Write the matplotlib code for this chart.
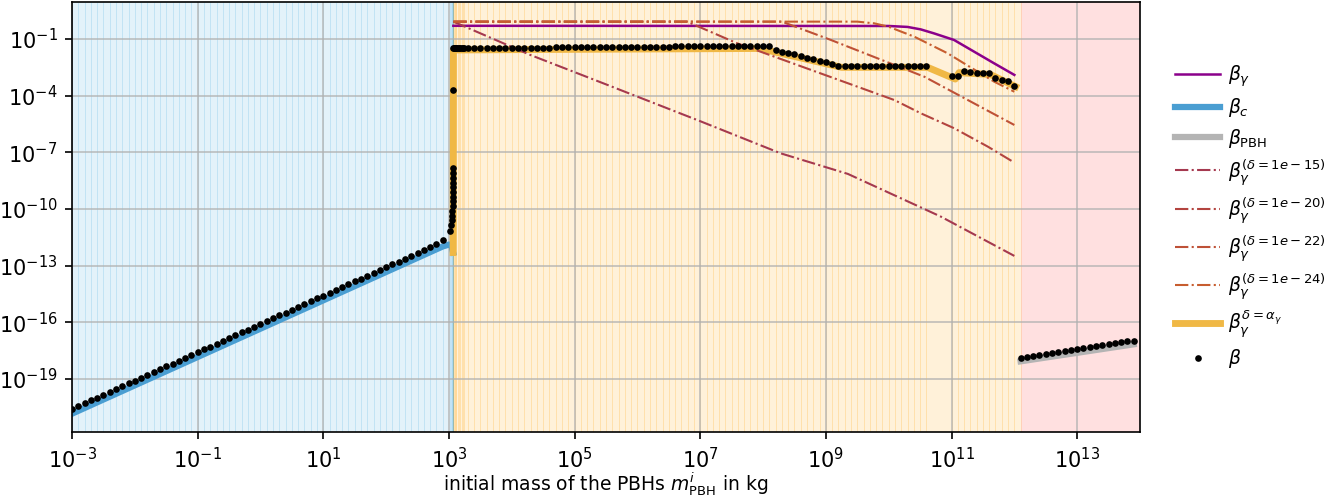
import numpy as np
import matplotlib
matplotlib.use("Agg")
import matplotlib.pyplot as plt

# ---------------- data (log10 values) ----------------
# beta (black dots), blue regime
logm_dots_c = [-3.0, -2.9, -2.8, -2.7, -2.6, -2.5, -2.4, -2.3, -2.2, -2.1,
               -2.0, -1.9, -1.8, -1.7, -1.6, -1.5, -1.4, -1.3, -1.2, -1.1,
               -1.0, -0.9, -0.8, -0.7, -0.6, -0.5, -0.4, -0.3, -0.2, -0.1,
               0.0, 0.1, 0.2, 0.3, 0.4, 0.5, 0.6, 0.7, 0.8, 0.9,
               1.0, 1.1, 1.2, 1.3, 1.4, 1.5, 1.6, 1.7, 1.8, 1.9,
               2.0, 2.1, 2.2, 2.3, 2.4, 2.5, 2.6, 2.7, 2.8, 2.9,
               3.020, 3.035, 3.045, 3.052, 3.056, 3.059, 3.061, 3.062,
               3.063, 3.064, 3.065, 3.066, 3.067, 3.068]
logb_dots_c = [-20.58, -20.43, -20.28, -20.13, -19.98, -19.83, -19.68, -19.53, -19.38, -19.23,
               -19.08, -18.93, -18.78, -18.63, -18.48, -18.33, -18.18, -18.03, -17.88, -17.73,
               -17.58, -17.43, -17.28, -17.13, -16.98, -16.83, -16.68, -16.53, -16.38, -16.23,
               -16.08, -15.93, -15.78, -15.63, -15.48, -15.33, -15.18, -15.03, -14.88, -14.73,
               -14.58, -14.43, -14.28, -14.13, -13.98, -13.83, -13.68, -13.53, -13.38, -13.23,
               -13.08, -12.93, -12.78, -12.63, -12.48, -12.33, -12.18, -12.02, -11.85, -11.62,
               -11.15, -10.85, -10.60, -10.35, -10.10, -9.85, -9.60, -9.35,
               -9.10, -8.85, -8.60, -8.35, -8.10, -7.85]

# beta (black dots), yellow regime
logm_dots_g = [3.069, 3.070, 3.080, 3.090, 3.100, 3.110, 3.120, 3.140, 3.160, 3.180, 3.200, 3.220, 3.240,
               3.3, 3.4, 3.5, 3.6, 3.7, 3.8, 3.9, 4.0, 4.1, 4.2, 4.3, 4.4, 4.5, 4.6,
               4.7, 4.8, 4.9, 5.0, 5.1, 5.2, 5.3, 5.4, 5.5, 5.6, 5.7, 5.8, 5.9, 6.0,
               6.1, 6.2, 6.3, 6.4, 6.5, 6.6, 6.7, 6.8, 6.9, 7.0, 7.1, 7.2, 7.3, 7.4,
               7.5, 7.6, 7.7, 7.8, 7.9, 8.0, 8.1, 8.2, 8.3, 8.4, 8.5, 8.6, 8.7, 8.8,
               8.9, 9.0, 9.1, 9.2, 9.3, 9.4, 9.5, 9.6, 9.7, 9.8, 9.9, 10.0, 10.1, 10.2,
               10.3, 10.4, 10.5, 10.6, 11.0, 11.1, 11.2, 11.3, 11.4, 11.5, 11.6, 11.7,
               11.8, 11.9, 12.0]
logb_dots_g = [-3.70, -1.46, -1.46, -1.46, -1.46, -1.46, -1.46, -1.46, -1.46, -1.46, -1.46, -1.46, -1.46,
               -1.46, -1.46, -1.46, -1.46, -1.46, -1.46, -1.46, -1.46, -1.46, -1.46, -1.46, -1.46, -1.46, -1.46,
               -1.42, -1.42, -1.42, -1.42, -1.42, -1.42, -1.42, -1.42, -1.42, -1.42, -1.42, -1.42, -1.42, -1.42,
               -1.42, -1.42, -1.42, -1.42, -1.42, -1.37, -1.37, -1.37, -1.37, -1.37, -1.37, -1.37, -1.37, -1.37,
               -1.37, -1.37, -1.36, -1.36, -1.36, -1.36, -1.36, -1.58, -1.67, -1.72, -1.81, -1.90, -1.99, -2.07,
               -2.15, -2.23, -2.32, -2.41, -2.41, -2.41, -2.41, -2.41, -2.41, -2.41, -2.41, -2.41, -2.41, -2.41,
               -2.41, -2.41, -2.41, -2.41, -2.96, -2.96, -2.68, -2.76, -2.81, -2.81, -2.81, -3.05,
               -3.17, -3.22, -3.47]

# beta (black dots), PBH regime
logm_dots_p = [12.1, 12.2, 12.3, 12.4, 12.5, 12.6, 12.7, 12.8, 12.9, 13.0,
               13.1, 13.2, 13.3, 13.4, 13.5, 13.6, 13.7, 13.8, 13.9]
logb_dots_p = [-17.86, -17.81, -17.76, -17.71, -17.66, -17.61, -17.56, -17.51, -17.46, -17.41,
               -17.36, -17.31, -17.26, -17.21, -17.16, -17.11, -17.06, -17.01, -16.96]

# beta_c
logm_c = [-3.0, 2.6, 2.9, 3.0, 3.04, 3.066]
logb_c = [-20.83, -12.43, -11.98, -11.88, -11.95, -12.30]

# beta_PBH
logm_pbh = [12.1, 13.9]
logb_pbh = [-18.06, -17.16]

# beta_gamma
logm_gam = [3.07, 10.0, 10.3, 10.51, 10.72, 11.04, 11.36, 11.68, 12.0]
logb_gam = [-0.30, -0.31, -0.36, -0.49, -0.70, -1.05, -1.67, -2.29, -2.90]

# beta_gamma^(delta)
logm_d15 = [3.07, 4.3, 5.5, 7.0, 8.28, 9.35, 10.83, 12.0]
logb_d15 = [-0.08, -1.85, -3.40, -5.35, -7.05, -8.14, -10.40, -12.48]
logm_d20 = [3.07, 6.79, 7.59, 7.96, 10.09, 10.51, 11.04, 11.58, 12.0]
logb_d20 = [-0.08, -0.08, -1.23, -1.67, -4.23, -4.93, -5.72, -6.70, -7.54]
logm_d22 = [3.07, 8.30, 9.08, 10.57, 11.26, 12.0]
logb_d22 = [-0.08, -0.08, -1.05, -3.00, -4.23, -5.55]
logm_d24 = [3.07, 9.5, 9.77, 10.0, 10.2, 10.41, 10.94, 11.2, 11.68, 12.0]
logb_d24 = [-0.08, -0.08, -0.17, -0.35, -0.61, -0.88, -1.76, -2.29, -3.26, -3.79]
delta_labels = ["1e-15", "1e-20", "1e-22", "1e-24"]

# beta_gamma^(delta = alpha_gamma)
logm_alpha = [3.066, 3.07, 4.7, 7.95, 9.25, 10.62, 11.06, 11.12, 11.62, 12.02]
logb_alpha = [-12.30, -1.58, -1.55, -1.50, -2.50, -2.50, -3.12, -2.78, -2.88, -3.52]

# regime boundaries (log10 of mass in kg) and axis range
logm_min, logm_max = -3.0, 14.0
regime_blue_end = 3.0685
regime_yellow_end = 12.05

# ---------------- styling ----------------
col_blue_bg = "#45aee4"
col_yellow_bg = "orange"
col_pink_bg = "red"
col_c = "#4a9ed2"
col_pbh = "#b4b4b4"
col_gam = "#8b008b"
col_alpha = "#f0b845"
col_delta = ["#a5394f", "#b3443f", "#be5137", "#c75d2f"]

fig = plt.figure(figsize=(8.96, 3.3267), dpi=150)
ax = fig.add_axes([0.0536, 0.1343, 0.7946, 0.8617])
ax.set_xscale("log")
ax.set_yscale("log")

# background spans, one per mass bin
all_logm = sorted(logm_dots_c + logm_dots_g + logm_dots_p)
edges = [m for m in all_logm if m < regime_yellow_end] + [logm_dots_p[0]]
for lo, hi in zip(edges[:-1], edges[1:]):
    c = col_blue_bg if lo < regime_blue_end else col_yellow_bg
    ax.axvspan(10 ** lo, 10 ** hi, facecolor=c, edgecolor=c, alpha=0.15, lw=0.35, zorder=0)
ax.axvspan(10 ** logm_dots_p[0], 10 ** logm_max, color=col_pink_bg, alpha=0.12, lw=0, zorder=0)

p = lambda a: 10 ** np.asarray(a, dtype=float)

ax.plot(p(logm_gam), p(logb_gam), color=col_gam, lw=1.2, label=r"$\beta_\gamma$", zorder=3)
ax.plot(p(logm_c), p(logb_c), color=col_c, lw=3.0, label=r"$\beta_c$", zorder=2)
ax.plot(p(logm_pbh), p(logb_pbh), color=col_pbh, lw=3.0, label=r"$\beta_{\rm PBH}$", zorder=2)
for lm, lb, lab, c in zip([logm_d15, logm_d20, logm_d22, logm_d24],
                          [logb_d15, logb_d20, logb_d22, logb_d24], delta_labels, col_delta):
    num, exp = lab.split("e-")
    ax.plot(p(lm), p(lb), color=c, lw=1.0, ls="-.",
            label=r"$\beta_\gamma^{(\delta=%se-%s)}$" % (num, exp), zorder=3)
ax.plot(p(logm_alpha), p(logb_alpha), color=col_alpha, lw=3.3,
        label=r"$\beta_\gamma^{\delta=\alpha_\gamma}$", zorder=2)
ax.plot(p(logm_dots_c + logm_dots_g + logm_dots_p), p(logb_dots_c + logb_dots_g + logb_dots_p),
        ls="none", marker="o", ms=3.2, mew=0, color="k", label=r"$\beta$", zorder=4)

ax.set_xlim(10 ** logm_min, 10 ** logm_max)
ax.set_ylim(10 ** -21.8, 10 ** 0.96)
ax.grid(True, which="major", color="#b0b0b0", lw=0.8, alpha=0.8)
ax.set_xlabel(r"initial mass of the PBHs $m^i_{\rm PBH}$ in kg", fontsize=9, labelpad=-0.5)
ax.legend(loc="center left", bbox_to_anchor=(1.017, 0.5), frameon=False, fontsize=9,
          handlelength=2.4, handletextpad=0.45, labelspacing=0.38)

fig.savefig("out.png", dpi=150)
